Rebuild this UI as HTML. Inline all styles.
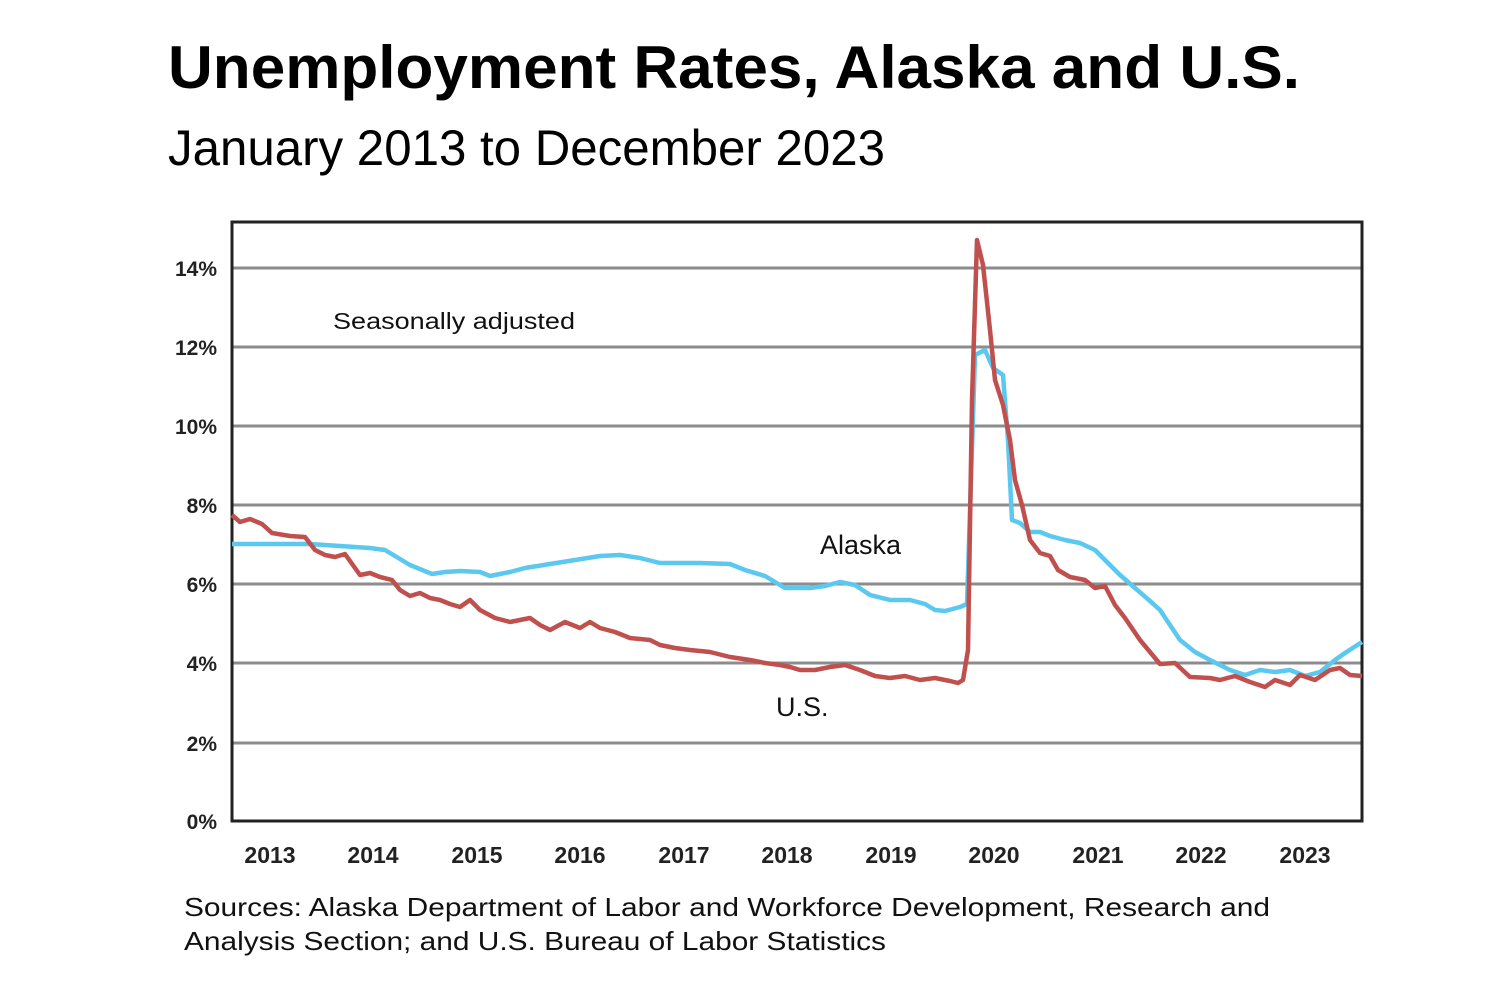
<!DOCTYPE html>
<html><head><meta charset="utf-8"><style>
body{margin:0;background:#fff;}
svg text{font-family:"Liberation Sans",sans-serif;}
</style></head><body>
<svg width="1500" height="1000" viewBox="0 0 1500 1000" xmlns="http://www.w3.org/2000/svg">
<rect width="1500" height="1000" fill="#fff"/>
<text x="168" y="88" font-size="60" font-weight="bold" textLength="1132" lengthAdjust="spacingAndGlyphs">Unemployment Rates, Alaska and U.S.</text>
<text x="168" y="165" font-size="50" textLength="717" lengthAdjust="spacingAndGlyphs">January 2013 to December 2023</text>
<g stroke="#8c8c8c" stroke-width="3">
<line x1="232" x2="1362" y1="268" y2="268"/>
<line x1="232" x2="1362" y1="347" y2="347"/>
<line x1="232" x2="1362" y1="426" y2="426"/>
<line x1="232" x2="1362" y1="505" y2="505"/>
<line x1="232" x2="1362" y1="584" y2="584"/>
<line x1="232" x2="1362" y1="663" y2="663"/>
<line x1="232" x2="1362" y1="743" y2="743"/>
</g>
<rect x="232" y="222" width="1130" height="599" fill="none" stroke="#222" stroke-width="3"/>
<g font-size="21" font-weight="bold" fill="#222" text-anchor="end">
<text x="217" y="276">14%</text><text x="217" y="355">12%</text><text x="217" y="434">10%</text>
<text x="217" y="513">8%</text><text x="217" y="592">6%</text><text x="217" y="671">4%</text>
<text x="217" y="751">2%</text><text x="217" y="829">0%</text>
</g>
<g font-size="23" font-weight="bold" fill="#222" text-anchor="middle">
<text x="270" y="863">2013</text><text x="373" y="863">2014</text><text x="477" y="863">2015</text>
<text x="580" y="863">2016</text><text x="684" y="863">2017</text><text x="787" y="863">2018</text>
<text x="891" y="863">2019</text><text x="994" y="863">2020</text><text x="1098" y="863">2021</text>
<text x="1201" y="863">2022</text><text x="1305" y="863">2023</text>
</g>
<text x="333" y="329" font-size="23" fill="#111" textLength="242" lengthAdjust="spacingAndGlyphs">Seasonally adjusted</text>
<text x="820" y="554" font-size="27" fill="#111">Alaska</text>
<text x="776" y="716" font-size="27" fill="#111">U.S.</text>
<polyline fill="none" stroke="#5bc8ef" stroke-width="4.5" stroke-linejoin="round" points="232,544 310,544 370,548 385,550 395,556 410,565 432,574 445,572 460,571 480,572 490,576 510,572 525,568 550,564 575,560 600,556 620,555 640,558 660,563 700,563 730,564 745,570 765,576 785,588 810,588 825,586 840,582 855,585 870,595 890,600 910,600 925,604 935,610 945,611 960,607 967,604 975,355 985,350 993,368 1003,375 1008,440 1012,520 1020,523 1030,532 1040,532 1050,536 1065,540 1080,543 1095,550 1110,565 1120,575 1135,588 1150,601 1160,610 1170,625 1180,640 1195,652 1210,660 1230,670 1245,675 1260,670 1275,672 1290,670 1305,676 1320,672 1335,660 1345,653 1362,642"/>
<polyline fill="none" stroke="#c0504d" stroke-width="4.5" stroke-linejoin="round" points="232,515 240,522 250,519 262,524 272,533 290,536 305,537 315,550 325,555 335,557 345,554 355,568 360,575 370,573 380,577 392,580 400,590 410,596 420,593 430,598 440,600 450,604 460,607 470,600 480,610 495,618 510,622 530,618 540,625 550,630 565,622 580,628 590,622 600,628 615,632 630,638 650,640 660,645 675,648 690,650 710,652 730,657 750,660 765,663 780,665 790,667 800,670 815,670 830,667 845,665 860,670 875,676 890,678 905,676 920,680 935,678 950,681 958,683 963,680 968,650 972,400 977,240 983,265 990,330 995,380 1003,405 1010,440 1015,480 1022,505 1030,540 1040,553 1050,556 1058,570 1070,577 1085,580 1095,588 1105,586 1115,605 1125,618 1140,640 1150,652 1160,664 1175,663 1190,677 1210,678 1220,680 1235,676 1250,682 1265,687 1275,680 1290,685 1300,675 1315,680 1330,670 1340,668 1350,675 1362,676"/>
<text x="184" y="916" font-size="26" fill="#111" textLength="1086" lengthAdjust="spacingAndGlyphs">Sources: Alaska Department of Labor and Workforce Development, Research and</text>
<text x="184" y="950" font-size="26" fill="#111" textLength="702" lengthAdjust="spacingAndGlyphs">Analysis Section; and U.S. Bureau of Labor Statistics</text>
</svg>
</body></html>
